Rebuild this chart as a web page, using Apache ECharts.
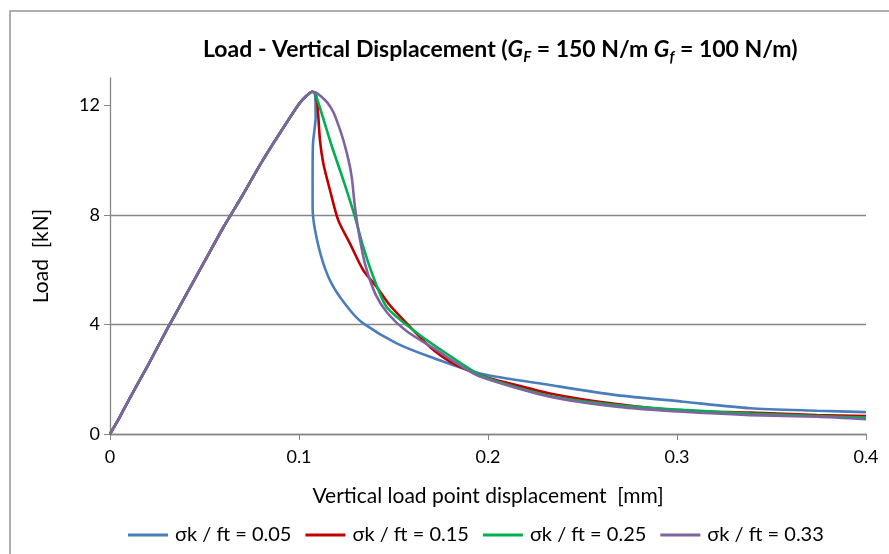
<!DOCTYPE html>
<html><head><meta charset="utf-8">
<script src="https://cdn.jsdelivr.net/npm/echarts@6/dist/echarts.min.js"></script>
<style>html,body{margin:0;padding:0;background:#fff}#c{width:889px;height:554px}</style>
</head><body><div id="c"></div>
<script>
// Shared pre-peak branch [displacement mm, load kN]
const prePeak = [[0,0],[0.005,0.6],[0.01,1.25],[0.02,2.5],[0.03,3.8],[0.04,5.05],[0.05,6.3],[0.06,7.55],[0.07,8.7],[0.08,9.9],[0.09,11.0],[0.1,12.05],[0.104,12.35],[0.107,12.5]];
const tail005 = [[0.1085,12.4],[0.1088,11.57],[0.1074,10.6],[0.1072,9.3],[0.1072,8.29],[0.1085,7.44],[0.1129,6.22],[0.1182,5.37],[0.127,4.52],[0.134,4.04],[0.1517,3.31],[0.1693,2.82],[0.1958,2.21],[0.2328,1.79],[0.268,1.42],[0.3033,1.18],[0.3386,0.94],[0.374,0.85],[0.4,0.8]];
const tail015 = [[0.1085,12.45],[0.1097,12.06],[0.1111,10.72],[0.1129,9.87],[0.1164,8.9],[0.1208,7.8],[0.127,6.95],[0.134,5.98],[0.1411,5.37],[0.1481,4.7],[0.157,4.04],[0.1693,3.18],[0.1799,2.64],[0.1869,2.4],[0.1975,2.11],[0.2028,2.0],[0.2328,1.48],[0.268,1.09],[0.3033,0.85],[0.3386,0.78],[0.374,0.69],[0.4,0.66]];
const tail025 = [[0.1085,12.45],[0.1175,10.48],[0.1235,9.26],[0.1296,7.93],[0.134,6.83],[0.1393,5.74],[0.1464,4.64],[0.1605,3.79],[0.178,2.94],[0.1975,2.1],[0.2328,1.39],[0.268,1.06],[0.3033,0.88],[0.3386,0.75],[0.374,0.66],[0.4,0.6]];
const tail033 = [[0.1085,12.48],[0.1111,12.36],[0.115,12.1],[0.1182,11.75],[0.121,11.25],[0.1235,10.72],[0.1262,10.0],[0.1279,9.38],[0.1296,8.29],[0.1314,7.44],[0.1349,6.22],[0.1405,5.1],[0.147,4.4],[0.157,3.75],[0.1728,3.06],[0.1887,2.35],[0.1975,2.05],[0.2328,1.36],[0.268,1.0],[0.3033,0.81],[0.3386,0.69],[0.374,0.63],[0.4,0.54]];
const seriesNames = ['σk / ft = 0.05','σk / ft = 0.15','σk / ft = 0.25','σk / ft = 0.33'];
const seriesTails = [tail005, tail015, tail025, tail033];
const colors = ['#4A7EBB','#C00000','#00B050','#8064A2'];
const yTicks = [0,4,8,12];

const FONT = 'Lato';
const chart = echarts.init(document.getElementById('c'));
chart.setOption({
  animation:false,
  color:colors,
  textStyle:{fontFamily:FONT},
  title:{
    left:198, top:30,
    text:'{b|Load - Vertical Displacement (}{i|G}{s|F}{b| = 150 N/m }{i|G}{s|f}{b| = 100 N/m)}',
    textStyle:{rich:{
      b:{fontFamily:FONT,fontWeight:'bold',fontSize:23,color:'#000',lineHeight:30},
      i:{fontFamily:FONT,fontWeight:'bold',fontStyle:'italic',fontSize:23,color:'#000',lineHeight:30},
      s:{fontFamily:FONT,fontWeight:'bold',fontStyle:'italic',fontSize:15,color:'#000',lineHeight:30,verticalAlign:'bottom',padding:[12,0,0,0]}
    }}
  },
  graphic:[{type:'rect',shape:{x:10,y:11,width:900,height:600},style:{fill:'none',stroke:'#959595',lineWidth:1.5},silent:true}],
  grid:{left:110,right:23,top:78,bottom:120},
  legend:{
    bottom:4, left:123,
    icon:'rect', itemWidth:40, itemHeight:3, itemGap:14,
    textStyle:{fontFamily:FONT,fontSize:20,color:'#000',padding:[0,0,0,2]},
    data:seriesNames
  },
  xAxis:{
    type:'value', min:0, max:0.4, interval:0.1,
    name:'Vertical load point displacement  [mm]', nameLocation:'middle', nameGap:52,
    nameTextStyle:{fontFamily:FONT,fontSize:21,color:'#000'},
    axisLine:{lineStyle:{color:'#868686',width:1.3}},
    axisTick:{show:true,length:6,lineStyle:{color:'#868686'}},
    axisLabel:{fontFamily:FONT,fontSize:18,color:'#000',margin:14},
    splitLine:{show:false}
  },
  yAxis:{
    type:'value', min:0, max:13, interval:4,
    name:'Load  [kN]', nameLocation:'middle', nameGap:58,
    nameTextStyle:{fontFamily:FONT,fontSize:21,color:'#000'},
    axisLine:{show:true,lineStyle:{color:'#868686',width:1.3}},
    axisTick:{show:true,length:6,lineStyle:{color:'#868686'},customValues:yTicks},
    axisLabel:{fontFamily:FONT,fontSize:18,color:'#000',margin:10,customValues:yTicks},
    splitLine:{show:true,showMaxLine:false,lineStyle:{color:'#868686',width:1.3}}
  },
  series:seriesNames.map((n,i)=>({
    name:n, type:'line', symbol:'none', smooth:0.25,
    lineStyle:{width:2.6,color:colors[i]},
    data:prePeak.concat(seriesTails[i])
  }))
});
</script></body></html>
